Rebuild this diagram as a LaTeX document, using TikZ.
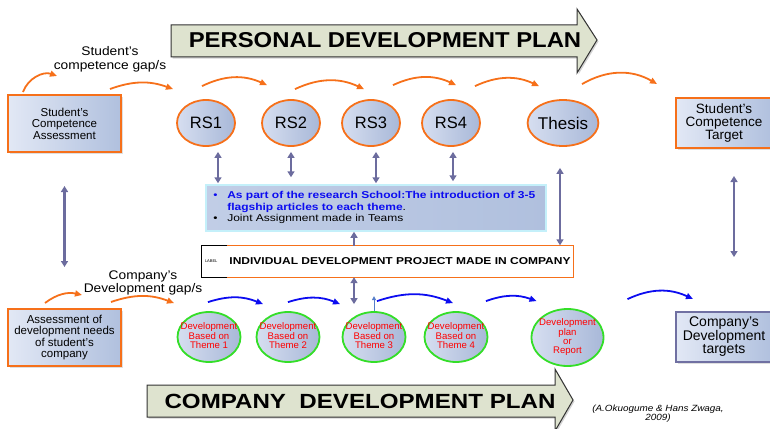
\documentclass[tikz,border=0pt]{standalone}
\usepackage{fontspec}
\setmainfont{Liberation Sans}
\usepackage{xcolor}
\usetikzlibrary{arrows.meta,positioning,shapes.geometric,shadows}
\definecolor{gaporange}{RGB}{246,112,26}
\definecolor{themeblue}{RGB}{12,12,240}
\definecolor{themegreen}{RGB}{52,222,40}
\definecolor{linkgray}{RGB}{108,108,158}
\definecolor{boxlight}{RGB}{226,232,245}
\definecolor{boxdark}{RGB}{176,192,222}
\definecolor{ovallight}{RGB}{214,222,240}
\definecolor{ovaldark}{RGB}{168,184,216}
\definecolor{planfill}{RGB}{222,227,207}
\definecolor{noteedge}{RGB}{196,240,250}
\definecolor{targetedge}{RGB}{112,112,162}
\definecolor{upblue}{RGB}{84,124,200}
% theme text may run over the oval, as in the original
\newcommand{\themetext}[1]{\makebox[0pt]{\begin{tabular}{@{}c@{}}#1\end{tabular}}}

\tikzset{
  competence/.style={draw=gaporange, line width=2pt, left color=boxlight, right color=boxdark,
    align=center, inner sep=0pt,
    drop shadow={opacity=0.25, shadow xshift=1.5pt, shadow yshift=-1.5pt}},
  research/.style={ellipse, draw=gaporange, line width=1.8pt, left color=ovallight, right color=ovaldark,
    minimum width=58pt, minimum height=46pt, inner sep=0pt, font=\fontsize{16.5}{16.5}\selectfont},
  themeoval/.style={ellipse, draw=themegreen, line width=1.8pt, left color=ovallight, right color=ovaldark,
    minimum width=63pt, minimum height=50pt, inner sep=0pt, text=red,
    font=\fontsize{9.6}{9.2}\selectfont},
  gaparc/.style={gaporange, line width=1.8pt, -{Triangle[length=7pt,width=6pt]}},
  themearc/.style={themeblue, line width=1.8pt, -{Triangle[length=7pt,width=6pt]}},
  linkarrow/.style={linkgray, line width=2.2pt, {Triangle[length=6pt,width=7pt]}-{Triangle[length=6pt,width=7pt]}},
  linkup/.style={linkgray, line width=2.2pt, -{Triangle[length=6pt,width=7pt]}},
  planarrow/.style={fill=planfill, draw=black!80, line width=1pt,
    drop shadow={opacity=0.35, shadow xshift=1.5pt, shadow yshift=-1.5pt}},
  plantitle/.style={font=\fontsize{21.5}{21.5}\selectfont\bfseries, xscale=1.11},
  gaplabel/.style={align=center, font=\fontsize{12.5}{13.8}\selectfont, xscale=1.1},
}

\begin{document}
\begin{tikzpicture}[x=1pt, y=-1pt]
\useasboundingbox (0,0) rectangle (770,428);

% plan arrows
\filldraw[planarrow] (171,25) -- (577,25) -- (577,9) -- (597,40) -- (577,73) -- (577,57) -- (171,57) -- cycle;
\node[plantitle] (personal) at (385,40) {PERSONAL DEVELOPMENT PLAN};
\filldraw[planarrow] (147,385) -- (555,385) -- (555,369) -- (573,400) -- (555,431) -- (555,417) -- (147,417) -- cycle;
\node[plantitle, font=\fontsize{20.5}{20.5}\selectfont\bfseries, xscale=1.06] (company) at (360,401) {COMPANY\ \ DEVELOPMENT PLAN};

% personal row
\node[competence, minimum width=113pt, minimum height=57pt, font=\fontsize{11.5}{11.5}\selectfont] (stuassess) at (64.5,123.5) {Student’s\\Competence\\Assessment};
\node[gaplabel] (stugap) at (110,59) {Student’s\\competence gap/s};
\node[research] (rs1) at (206,123) {RS1};
\node[research] (rs2) at (291,123) {RS2};
\node[research] (rs3) at (371,123) {RS3};
\node[research] (rs4) at (451,123) {RS4};
\node[research, font=\fontsize{17}{17}\selectfont] (thesis) at (563,123) {Thesis};
\node[competence, minimum width=96pt, minimum height=50pt, font=\fontsize{13.5}{13.3}\selectfont] (stutarget) at (724,123) {Student’s\\Competence\\Target};

% research school note
\node[draw=noteedge, line width=1.5pt, left color=boxdark!55!ovallight, right color=boxdark,
  minimum width=340pt, minimum height=46pt] (note) at (376,208) {};
\node[anchor=west, xscale=1.2, inner sep=0pt, font=\fontsize{10}{11.5}\selectfont] (notetext) at ([xshift=8pt]note.west) {%
  \begin{tabular}{@{}l@{\hspace{8pt}}l@{}}
  \textcolor{themeblue}{\textbullet} & \textcolor{themeblue}{\bfseries As part of the research School:The introduction of 3-5}\\
  & \textcolor{themeblue}{\bfseries flagship articles to each theme}.\\
  \textbullet & Joint Assignment made in Teams
  \end{tabular}};

% project label
\node[fill=white, minimum width=371pt, minimum height=31pt] (label) at (387.5,261.5) {};
\draw[gaporange, line width=1.2pt] ([xshift=25pt]label.north west) -- (label.north east) -- (label.south east) -- ([xshift=25pt]label.south west);
\draw[black, line width=0.8pt] ([xshift=25pt]label.north west) -- (label.north west) -- (label.south west) -- ([xshift=25pt]label.south west);
\node[anchor=west, inner sep=0pt, font=\fontsize{4}{4}\selectfont] (labeltag) at ([xshift=3pt]label.west) {LABEL};
\node[font=\fontsize{10}{10}\selectfont\bfseries, xscale=1.2] (labeltext) at (400,261.5) {INDIVIDUAL DEVELOPMENT PROJECT MADE IN COMPANY};

% company row
\node[competence, minimum width=113pt, minimum height=57pt, font=\fontsize{11.5}{11.5}\selectfont] (compassess) at (64.5,337.5) {Assessment of\\development needs\\of student’s\\company};
\node[gaplabel] (compgap) at (143,283) {Company’s\\Development gap/s};
\node[themeoval] (dev1) at (209,337) {\themetext{Development\\Based on\\Theme 1}};
\node[themeoval] (dev2) at (288,337) {\themetext{Development\\Based on\\Theme 2}};
\node[themeoval] (dev3) at (374,337) {\themetext{Development\\Based on\\Theme 3}};
\node[themeoval] (dev4) at (456,337) {\themetext{Development\\Based on\\Theme 4}};
\node[themeoval, minimum width=72pt, minimum height=57pt] (devplan) at (567.5,337.5) {\themetext{Development\\plan\\or\\Report}};
\node[competence, draw=targetedge, minimum width=96pt, minimum height=50pt, font=\fontsize{14}{13}\selectfont] (comptarget) at (724,337) {Company’s\\Development\\targets};

\node[align=center, xscale=1.1, font=\fontsize{9}{9}\selectfont\itshape] (source) at (658,414) {(A.Okuogume \& Hans Zwaga,\\2009)};

% gap arcs
\draw[gaparc] ([shift={(-41.5,-2)}]stuassess.north) to[bend left=45] ([shift={(-7.5,-18)}]stuassess.north);
\draw[gaparc] ([shift={(45.5,-5)}]stuassess.north) to[bend left=20] ([shift={(-33,-10)}]rs1.north);
\draw[gaparc] ([shift={(-4,-13)}]rs1.north) to[bend left=25] ([shift={(-24,-14)}]rs2.north);
\draw[gaparc] ([shift={(4,-10)}]rs2.north) to[bend left=25] ([shift={(-7,-10)}]rs3.north);
\draw[gaparc] ([shift={(22,-14)}]rs3.north) to[bend left=25] ([shift={(5,-14)}]rs4.north);
\draw[gaparc] ([shift={(24,-13)}]rs4.north) to[bend left=25] ([shift={(-24,-13)}]thesis.north);
\draw[gaparc] ([shift={(19,-15)}]thesis.north) to[bend left=30] ([shift={(-67,-13)}]stutarget.north);
\draw[gaparc] ([shift={(-19.5,-5)}]compassess.north) to[bend left=25] ([shift={(17.5,-13)}]compassess.north);
\draw[gaparc] ([shift={(46.5,-6)}]compassess.north) to[bend left=20] ([shift={(-35,-8)}]dev1.north);

% theme arcs
\draw[themearc] ([shift={(-1,-9)}]dev1.north) to[bend left=20] ([shift={(-25,-7)}]dev2.north);
\draw[themearc] ([shift={(0,-9)}]dev2.north) to[bend left=20] ([shift={(-34,-7)}]dev3.north);
\draw[themearc] ([shift={(3,-10)}]dev3.north) to[bend left=20] ([shift={(-3,-8)}]dev4.north);
\draw[themearc] ([shift={(30,-10)}]dev4.north) to[bend left=20] ([shift={(-31,-7)}]devplan.north);
\draw[themearc] ([shift={(60,-9)}]devplan.north) to[bend left=25] ([shift={(-31,-12)}]comptarget.north);

% links
\draw[linkarrow, shorten <=33pt, shorten >=41pt] (stuassess.south) -- (compassess.north);
\draw[linkarrow, shorten <=27pt, shorten >=54pt] ([xshift=10pt]stutarget.south) -- ([xshift=10pt]comptarget.north);
\draw[linkarrow, shorten <=5pt, shorten >=1pt] ([xshift=12pt]rs1.south) -- ([xshift=12pt]rs1.south |- note.north);
\draw[linkarrow, shorten <=5pt, shorten >=7pt] (rs2.south) -- (rs2.south |- note.north);
\draw[linkarrow, shorten <=5pt, shorten >=1pt] ([xshift=5pt]rs3.south) -- ([xshift=5pt]rs3.south |- note.north);
\draw[linkarrow, shorten <=5pt, shorten >=3pt] ([xshift=2pt]rs4.south) -- ([xshift=2pt]rs4.south |- note.north);
\draw[linkarrow, shorten <=21pt, shorten >=0.5pt] ([xshift=-3pt]thesis.south) -- ([xshift=-3pt]thesis.south |- label.north);
\draw[linkup] ([xshift=-33.5pt]label.north) -- ([xshift=-33.5pt]label.north |- note.south);
\draw[linkarrow, shorten >=7pt] ([xshift=-33.5pt]label.south) -- ([xshift=-33.5pt]label.south |- dev3.north);
\draw[upblue, line width=1pt, -{Triangle[length=4pt,width=4pt]}] (dev3.north) -- ++(0,-15);
\end{tikzpicture}
\end{document}
